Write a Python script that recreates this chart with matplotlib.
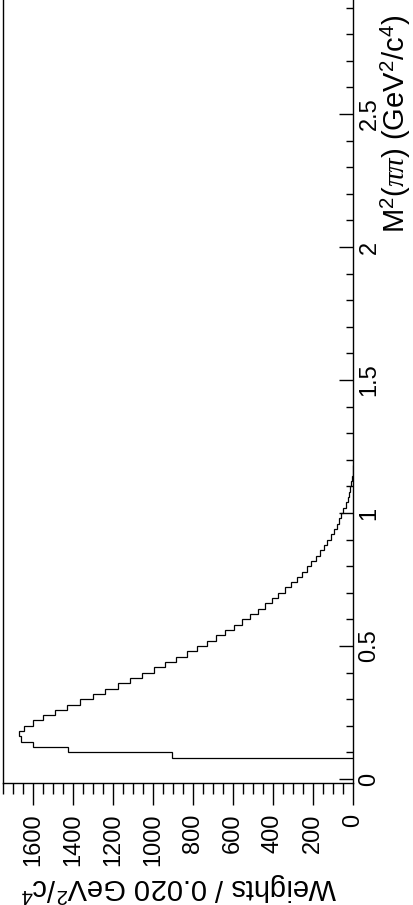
import numpy as np
import matplotlib
matplotlib.use('Agg')
import matplotlib.pyplot as plt
from matplotlib.ticker import MultipleLocator, FixedLocator, FuncFormatter

plt.rcParams['font.family'] = ['Liberation Sans', 'DejaVu Sans']
plt.rcParams['mathtext.fontset'] = 'custom'
plt.rcParams['mathtext.rm'] = 'Liberation Sans'
plt.rcParams['mathtext.it'] = 'Liberation Serif:italic'

# histogram of M^2(pi pi), bins of 0.02 GeV^2/c^4 starting at 0.08
bin_width = 0.02
first_edge = 0.08
weights = [905, 1423, 1598, 1660, 1668, 1643, 1600, 1548, 1490, 1428,
           1365, 1302, 1238, 1177, 1115, 1053, 997, 940, 885, 832,
           782, 732, 686, 640, 596, 554, 515, 477, 440, 406,
           373, 342, 312, 282, 255, 232, 208, 187, 165, 147,
           128, 112, 97, 82, 70, 58, 48, 37, 27, 20,
           13, 8, 4, 1.5, 0.5]
edges = first_edge + bin_width * np.arange(len(weights) + 1)

m2_ticks = [0, 0.5, 1, 1.5, 2, 2.5]
x_title = r'M$^{2}$($\pi\pi$) (GeV$^{2}$/c$^{4}$)'
y_title = r'Weights / 0.020 GeV$^{2}$/c$^{4}$'

# the picture is the usual plot turned a quarter turn to the left
fig = plt.figure(figsize=(4.14, 9.05), dpi=100)
ax = fig.add_axes([3/414, 1 - 783/905, 350/414, 802/905])
ax.stairs(weights, edges, orientation='horizontal', baseline=0,
          color='black', linewidth=0.9)
ax.set_xlim(1750, 0)
ax.set_ylim(-0.015, 3.0)

for s in ax.spines.values():
    s.set_linewidth(1.0)

# M^2 axis on the right
ax.yaxis.tick_right()
ax.yaxis.set_major_locator(FixedLocator(m2_ticks))
ax.yaxis.set_minor_locator(MultipleLocator(0.1))
ax.yaxis.set_major_formatter(FuncFormatter(lambda v, p: '%g' % v))
ax.tick_params(axis='y', which='major', direction='in', length=10, width=1,
               labelsize=17, pad=4, labelrotation=90)
ax.tick_params(axis='y', which='minor', direction='in', length=5, width=1)
for lbl in ax.get_yticklabels():
    lbl.set_va('center')

# weights axis at the bottom
ax.xaxis.set_major_locator(MultipleLocator(200))
ax.xaxis.set_minor_locator(MultipleLocator(50))
ax.tick_params(axis='x', which='major', direction='out', length=16, width=1,
               labelsize=17, pad=6, labelrotation=90)
ax.tick_params(axis='x', which='minor', direction='out', length=8, width=1)

fig.text(405/414, 1 - 233/905, x_title, rotation=90, rotation_mode='anchor',
         ha='left', va='baseline', fontsize=21)
fig.text(337/414, 1 - 878/905, y_title, rotation=180, rotation_mode='anchor',
         ha='left', va='baseline', fontsize=21)

fig.savefig('out.png', dpi=100)
